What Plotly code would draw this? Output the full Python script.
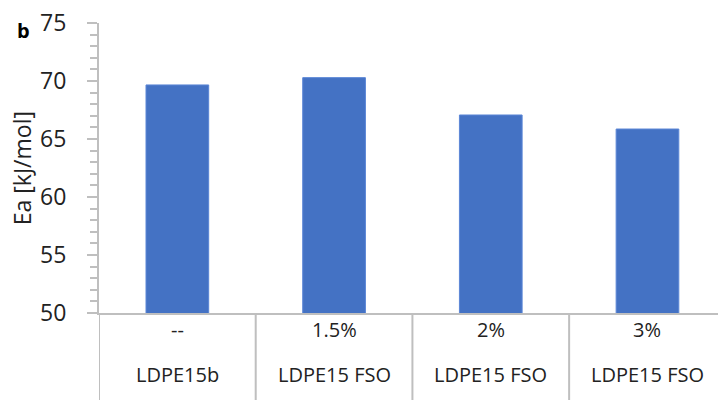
import plotly.graph_objects as go

# Ea values (kJ/mol)
sample = ["LDPE15b", "LDPE15 FSO", "LDPE15 FSO", "LDPE15 FSO"]
fso_content = ["--", "1.5%", "2%", "3%"]
ea = [69.66, 70.29, 67.07, 65.86]
y_ticks = [50, 55, 60, 65, 70, 75]

FONT = "Open Sans"
GRID = "#bfbfbf"
TXT = "#222222"

pos = list(range(len(sample)))

fig = go.Figure()
fig.add_trace(go.Bar(
    x=pos, y=ea, width=0.4,
    marker=dict(color="#4472C4", line=dict(color="#5b86d6", width=1)),
    hovertemplate="%{y:.2f} kJ/mol<extra></extra>",
))

# category separators under the x axis (excel style)
for p in pos + [pos[-1] + 1]:
    fig.add_shape(type="line", xref="x", yref="paper",
                  x0=p - 0.5, x1=p - 0.5, y0=0, y1=-0.31,
                  line=dict(color=GRID, width=2))

# two rows of category labels
annos = []
for p, c, s in zip(pos, fso_content, sample):
    annos.append(dict(text=c, x=p, xref="x", y=-0.11, yref="paper",
                      showarrow=False, font=dict(size=20, color=TXT)))
    annos.append(dict(text=s, x=p, xref="x", y=-0.265, yref="paper",
                      showarrow=False, font=dict(size=20, color=TXT)))
annos.append(dict(text="Ea [kJ/mol]", textangle=-90, xref="paper", yref="paper",
                  x=-0.124, y=0.5, xanchor="center", yanchor="middle",
                  showarrow=False, font=dict(size=23, color=TXT)))
annos.append(dict(text="<b>b</b>", xref="paper", yref="paper", x=-0.122, y=0.975,
                  xanchor="center", yanchor="middle",
                  showarrow=False, font=dict(size=20, color="black")))

fig.update_layout(
    width=718, height=400,
    margin=dict(l=99, r=0, t=23, b=87),
    plot_bgcolor="white", paper_bgcolor="white",
    showlegend=False,
    font=dict(family=FONT, color=TXT),
    xaxis=dict(
        range=[-0.5, 3.45], automargin=False,
        tickvals=pos, showticklabels=False,
        ticks="", showline=True, linecolor=GRID, linewidth=2,
        showgrid=False, zeroline=False,
    ),
    yaxis=dict(
        range=[50, 75], tickvals=y_ticks, automargin=False,
        tickfont=dict(size=23, color=TXT),
        ticks="outside", ticklen=10, tickwidth=2, tickcolor=GRID,
        ticklabelstandoff=16, ticklabeloverflow="allow",
        minor=dict(dtick=1, ticks="outside", ticklen=7, tickwidth=2, tickcolor=GRID),
        showline=True, linecolor=GRID, linewidth=2,
        showgrid=False, zeroline=False,
    ),
    annotations=annos,
)

# drop the default 8px page margin so the figure fills the window
fig.write_html("out.html", config={"displayModeBar": False},
               post_script="document.body.style.margin='0';")
